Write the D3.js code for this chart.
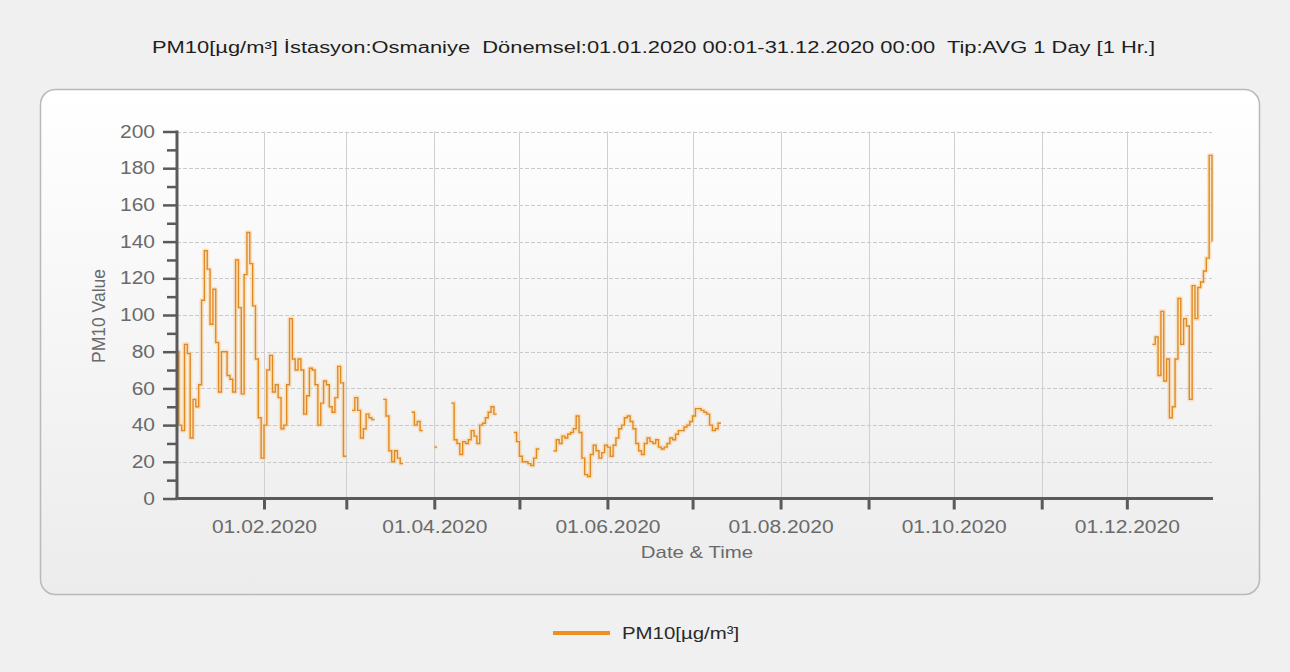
<!DOCTYPE html>
<html><head><meta charset="utf-8">
<script src="https://cdn.jsdelivr.net/npm/d3@7/dist/d3.min.js"></script>
<style>
html,body{margin:0;padding:0;background:#f0f0f0;}
svg{display:block;}
text{font-family:"Liberation Sans",Arial,sans-serif;}
</style></head><body>
<svg id="chart" width="1290" height="672"></svg>
<script>
// ---- texts ----
const titleText = "PM10[µg/m³] İstasyon:Osmaniye  Dönemsel:01.01.2020 00:01-31.12.2020 00:00  Tip:AVG 1 Day [1 Hr.]";
const seriesName = "PM10[µg/m³]";
const yTitle = "PM10 Value";
const xTitle = "Date & Time";

// ---- axis ticks ----
const yMajorTicks = [0, 20, 40, 60, 80, 100, 120, 140, 160, 180, 200];
const yMinorTicks = [10, 30, 50, 70, 90, 110, 130, 150, 170, 190];
const monthTicks = ["2020-02-01","2020-03-01","2020-04-01","2020-05-01","2020-06-01","2020-07-01",
                    "2020-08-01","2020-09-01","2020-10-01","2020-11-01","2020-12-01"];
const labelledTicks = ["01.02.2020","01.04.2020","01.06.2020","01.08.2020","01.10.2020","01.12.2020"];

// ---- daily PM10 values (µg/m³), one entry per day of month, null = no data ----
const jan = [80, 40, 37, 84, 79, 33, 54, 50, 62, 108, 135, 125, 95, 114, 85, 58, 80, 80, 67, 65,
             58, 130, 104, 57, 122, 145, 128, 105, 76, 44, 22];
const feb = [40, 70, 78, 58, 62, 55, 38, 40, 62, 98, 76, 70, 76, 70, 46, 56, 71, 70, 62, 40,
             52, 64, 62, 50, 47, 55, 72, 63, 23];
const mar = [null, null, 48, 55, 48, 33, 38, 46, 44, 43, null, null, null, 54, 45, 26, 20, 26, 22, 19,
             null, null, null, 47, 40, 42, 37, null, null, null, null];
const apr = [28, null, null, null, null, null, 52, 32, 30, 24, 31, 30, 32, 37, 34, 30, 40, 41, 44, 47,
             50, 46, null, null, null, null, null, null, 36, 31];
const may = [23, 20, 20, 19, 18, 22, 27, null, null, null, null, null, 26, 32, 30, 34, 33, 35, 36, 38,
             45, 36, 22, 13, 12, 24, 29, 26, 22, 25, 29];
const jun = [28, 23, 29, 33, 38, 40, 44, 45, 42, 38, 30, 26, 24, 30, 33, 31, 30, 32, 28, 27,
             28, 30, 33, 32, 35, 37, 37, 39, 40, 42];
const jul = [45, 49, 49, 48, 47, 46, 40, 37, 38, 41];
const aug = [];
const sep = [];
const oct = [];
const nov = [];
const dec = [null, null, null, null, null, null, null, null, null, 84, 88, 67, 102, 64, 76, 44, 50, 76, 109, 84,
             98, 94, 54, 116, 98, 115, 118, 124, 131, 187, 140];
const months = [jan, feb, mar, apr, may, jun, jul, aug, sep, oct, nov, dec];

// ---- build series ----
const parse = d3.timeParse("%Y-%m-%d");
const xStart = new Date(2020, 0, 1), xEnd = new Date(2020, 11, 31);
const days = d3.timeDay.range(xStart, d3.timeDay.offset(xEnd, 1)).map(d => {
  const arr = months[d.getMonth()];
  const v = arr[d.getDate() - 1];
  return {date: d, v: (v === undefined ? null : v)};
});
const segments = [];
let cur = null;
days.forEach(d => {
  if (d.v == null) { cur = null; return; }
  if (!cur) { cur = []; segments.push(cur); }
  cur.push(d);
});
segments.forEach(s => {
  const last = s[s.length - 1];
  const nd = d3.timeDay.offset(last.date, 1);
  if (nd <= xEnd) s.push({date: nd, v: last.v});
});

// ---- drawing ----
const plot = {left: 177, right: 1212, top: 131.5, bottom: 498.5};
const svg = d3.select("#chart");
const defs = svg.append("defs");
const grad = defs.append("linearGradient").attr("id", "panelGrad").attr("x1", 0).attr("y1", 0).attr("x2", 0).attr("y2", 1);
grad.append("stop").attr("offset", "0%").attr("stop-color", "#ffffff");
grad.append("stop").attr("offset", "100%").attr("stop-color", "#ececec");
defs.append("clipPath").attr("id", "plotClip").append("rect")
  .attr("x", plot.left).attr("y", plot.top - 5).attr("width", plot.right - plot.left + 2).attr("height", plot.bottom - plot.top + 5);

const stretch = 1.2;
function widen(sel, f) {
  sel.each(function () {
    const len = this.getComputedTextLength();
    d3.select(this).attr("textLength", len * f).attr("lengthAdjust", "spacingAndGlyphs");
  });
}

// title
svg.append("text").attr("x", 653.5).attr("y", 53).attr("text-anchor", "middle")
  .attr("xml:space", "preserve").style("white-space", "pre")
  .attr("font-size", 16).attr("fill", "#1e1e1e")
  .attr("textLength", 1003).attr("lengthAdjust", "spacingAndGlyphs").text(titleText);

// panel
svg.append("rect").attr("x", 40.5).attr("y", 89.5).attr("width", 1219).attr("height", 505).attr("rx", 15)
  .attr("fill", "url(#panelGrad)").attr("stroke", "#b9b9b9").attr("stroke-width", 1.5);

const x = d3.scaleTime().domain([xStart, xEnd]).range([176, plot.right]);
const y = d3.scaleLinear().domain([0, 200]).range([plot.bottom, plot.top]);

// grid
const grid = svg.append("g");
grid.selectAll("line.h").data(yMajorTicks.filter(t => t > 0)).join("line")
  .attr("x1", plot.left).attr("x2", plot.right).attr("y1", d => Math.round(y(d)) + 0.5).attr("y2", d => Math.round(y(d)) + 0.5)
  .attr("stroke", "#c9c9c9").attr("stroke-width", 1).attr("stroke-dasharray", "4,2");
grid.selectAll("line.v").data(monthTicks.map(parse)).join("line")
  .attr("x1", d => Math.round(x(d)) + 0.5).attr("x2", d => Math.round(x(d)) + 0.5).attr("y1", plot.top).attr("y2", plot.bottom)
  .attr("stroke", "#d0d0d0").attr("stroke-width", 1);

// series
const line = d3.line().x(d => x(d.date)).y(d => y(d.v)).curve(d3.curveStepAfter);
const series = svg.append("g").attr("clip-path", "url(#plotClip)");
series.selectAll("path.halo").data(segments).join("path").attr("class", "halo")
  .attr("d", line).attr("fill", "none").attr("stroke", "#fbd29a").attr("stroke-opacity", 0.55)
  .attr("stroke-width", 4.5).attr("stroke-linejoin", "round");
series.selectAll("path.main").data(segments).join("path").attr("class", "main")
  .attr("d", line).attr("fill", "none").attr("stroke", "#e08a24").attr("stroke-width", 1.4)
  .attr("stroke-linejoin", "miter");

// y axis
const axisColor = "#5a5a5a";
const yMinor = svg.append("g").attr("transform", `translate(${plot.left},0)`)
  .call(d3.axisLeft(y).tickValues(yMinorTicks).tickSize(10).tickFormat(""));
const yMajor = svg.append("g").attr("transform", `translate(${plot.left},0)`)
  .call(d3.axisLeft(y).tickValues(yMajorTicks).tickSize(14).tickPadding(8));
[yMinor, yMajor].forEach(g => {
  g.select(".domain").remove();
  g.selectAll(".tick line").attr("stroke", axisColor).attr("stroke-width", 2.5);
});
yMajor.selectAll(".tick text").attr("font-size", 17.5).attr("fill", "#6a6a6a")
  .attr("font-family", "Liberation Sans, Arial, sans-serif");
widen(yMajor.selectAll(".tick text"), stretch);
svg.append("line").attr("x1", plot.left).attr("x2", plot.left).attr("y1", plot.top - 1).attr("y2", plot.bottom + 1.5)
  .attr("stroke", axisColor).attr("stroke-width", 3);

// x axis
const xAxis = svg.append("g").attr("transform", `translate(0,${plot.bottom})`)
  .call(d3.axisBottom(x).tickValues(monthTicks.map(parse)).tickSize(11).tickPadding(11)
    .tickFormat(d => { const s = d3.timeFormat("%d.%m.%Y")(d); return labelledTicks.includes(s) ? s : ""; }));
xAxis.select(".domain").remove();
xAxis.selectAll(".tick line").attr("stroke", axisColor).attr("stroke-width", 3);
xAxis.selectAll(".tick text").attr("font-size", 17.5).attr("fill", "#6a6a6a")
  .attr("font-family", "Liberation Sans, Arial, sans-serif");
widen(xAxis.selectAll(".tick text").filter(function () { return this.textContent !== ""; }), stretch);
svg.append("line").attr("x1", plot.left - 1.5).attr("x2", plot.right + 1).attr("y1", plot.bottom).attr("y2", plot.bottom)
  .attr("stroke", axisColor).attr("stroke-width", 3);

// axis titles
const xt = svg.append("text").attr("x", 697).attr("y", 558).attr("text-anchor", "middle")
  .attr("font-size", 17).attr("fill", "#6a6a6a").text(xTitle);
widen(xt, stretch);
svg.append("text").attr("transform", "translate(105,316) rotate(-90)").attr("text-anchor", "middle")
  .attr("font-size", 17.5).attr("fill", "#6a6a6a").text(yTitle);

// legend
svg.append("line").attr("x1", 553).attr("x2", 610).attr("y1", 633).attr("y2", 633)
  .attr("stroke", "#ee8f22").attr("stroke-width", 4);
const lt = svg.append("text").attr("x", 622).attr("y", 639).attr("font-size", 17).attr("fill", "#2a2a2a").text(seriesName);
widen(lt, stretch);
</script>
</body></html>
